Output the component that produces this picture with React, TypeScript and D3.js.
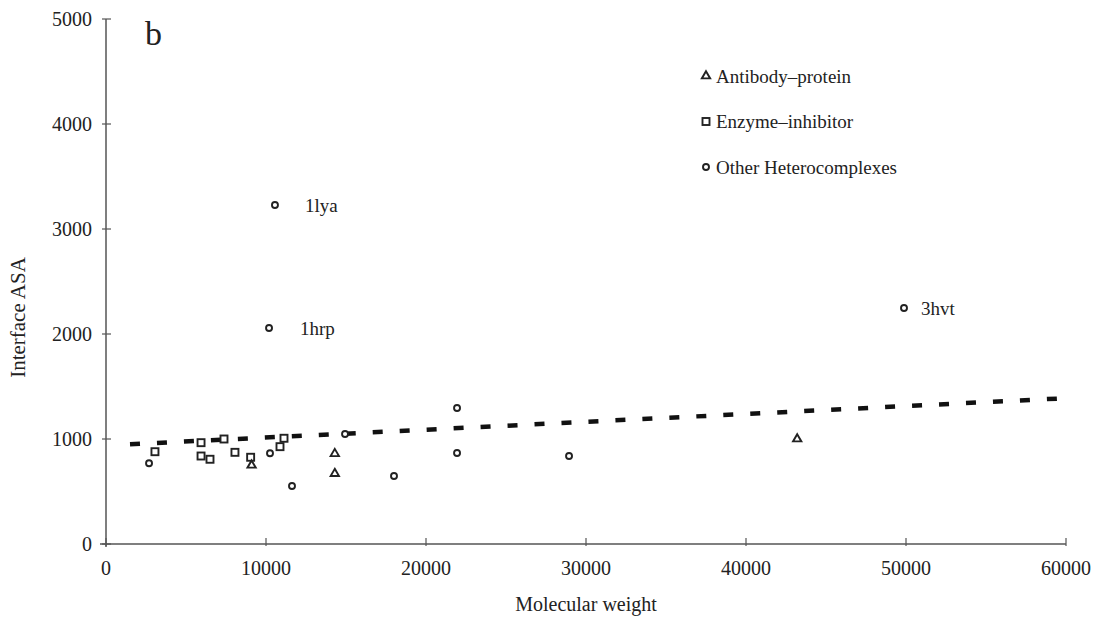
import React from 'react';
import * as d3 from 'd3';

// values (molecular weight vs interface ASA)
const antibodyMW = [9100, 14300, 14300, 43200];
const antibodyASA = [750, 860, 670, 1000];

const enzymeMW = [3060, 5940, 5940, 6500, 7375, 8060, 9040, 10875, 11125];
const enzymeASA = [879, 965, 838, 807, 1000, 873, 826, 927, 1007];

const otherMW = [2690, 10250, 11625, 14940, 18000, 21940, 21940, 28940, 10190, 10560, 49875];
const otherASA = [769, 864, 552, 1048, 648, 1295, 867, 838, 2057, 3229, 2248];
const otherNames = ['', '', '', '', '', '', '', '', '1hrp', '1lya', '3hvt'];

// regression line end points
const fitMW = [1500, 59500];
const fitASA = [950, 1385];

const xTicks = [0, 10000, 20000, 30000, 40000, 50000, 60000];
const yTicks = [0, 1000, 2000, 3000, 4000, 5000];

const legendItems = ['Antibody\u2013protein', 'Enzyme\u2013inhibitor', 'Other Heterocomplexes'];

const W = 1100, H = 619;
const margin = { top: 19, right: 34, bottom: 75, left: 106 };
const font = '"Liberation Serif", "DejaVu Serif", serif';
const ink = '#222';
const axisCol = '#555';
// how far each name sits right of its point
const nameDx: Record<string, number> = { '1hrp': 31, '1lya': 30, '3hvt': 17 };

export default function App() {
  const x = d3.scaleLinear().domain([0, 60000]).range([margin.left, W - margin.right]);
  const y = d3.scaleLinear().domain([0, 5000]).range([H - margin.bottom, margin.top]);

  const tri = d3.symbol().type(d3.symbolTriangle).size(30)();
  const line = d3.line<number>()
    .x((d) => x(fitMW[d]))
    .y((d) => y(fitASA[d]));

  const square = (cx: number, cy: number, k: string) => (
    <rect key={k} x={cx - 3.5} y={cy - 3.5} width={7} height={7} fill="white" stroke={ink} strokeWidth={1.9} />
  );
  const circle = (cx: number, cy: number, k: string) => (
    <circle key={k} cx={cx} cy={cy} r={3} fill="white" stroke={ink} strokeWidth={1.9} />
  );
  const triangle = (cx: number, cy: number, k: string) => (
    <path key={k} d={tri!} transform={`translate(${cx},${cy})`} fill="white" stroke={ink} strokeWidth={1.9} />
  );

  const x0 = x(0), y0 = y(0);

  return (
    <svg width={W} height={H} style={{ position: 'absolute', left: 0, top: 0, background: 'white' }}
      fontFamily={font}>
      {/* axes */}
      <line x1={x0 - 6} x2={x(60000)} y1={y0} y2={y0} stroke={axisCol} strokeWidth={1.5} />
      <line x1={x0} x2={x0} y1={y(5000)} y2={y0 + 3} stroke={axisCol} strokeWidth={1.5} />
      {xTicks.map((t) => (
        <g key={'xt' + t}>
          <line x1={x(t)} x2={x(t)} y1={y0 - 6} y2={y0 + 2} stroke={axisCol} strokeWidth={1.2} />
          <text x={x(t)} y={y0 + 31} textAnchor="middle" fontSize={20} fill={ink}>{t}</text>
        </g>
      ))}
      {yTicks.map((t) => (
        <g key={'yt' + t}>
          <line x1={x0 - 4} x2={x0 + 5} y1={y(t)} y2={y(t)} stroke={axisCol} strokeWidth={1.2} />
          <text x={x0 - 14} y={y(t)} dy="0.35em" textAnchor="end" fontSize={20} fill={ink}>{t}</text>
        </g>
      ))}
      <text x={(x(0) + x(60000)) / 2} y={611} textAnchor="middle" fontSize={20} fill={ink}>Molecular weight</text>
      <text transform={`translate(25,${(y(0) + y(5000)) / 2 + 36}) rotate(-90)`} textAnchor="middle" fontSize={21} fill={ink}>Interface ASA</text>
      <text x={145} y={45} fontSize={34} fill={ink}>b</text>

      {/* regression line */}
      <path d={line([0, 1])!} fill="none" stroke="#111" strokeWidth={4.5} strokeDasharray="10 17" />

      {/* points */}
      {enzymeMW.map((m, i) => square(x(m), y(enzymeASA[i]), 'e' + i))}
      {otherMW.map((m, i) => circle(x(m), y(otherASA[i]), 'o' + i))}
      {antibodyMW.map((m, i) => triangle(x(m), y(antibodyASA[i]), 'a' + i))}
      {otherMW.map((m, i) => otherNames[i] ? (
        <text key={'n' + i} x={x(m) + nameDx[otherNames[i]]} y={y(otherASA[i])} dy="0.35em" fontSize={19} fill={ink}>{otherNames[i]}</text>
      ) : null)}

      {/* legend */}
      {legendItems.map((lab, i) => {
        const ly = 76 + i * 45.5;
        return (
          <g key={'lg' + i}>
            {i === 0 ? triangle(706, ly, 'lt') : i === 1 ? square(706, ly, 'ls') : circle(706, ly, 'lc')}
            <text x={716} y={ly} dy="0.35em" fontSize={19} fill={ink}>{lab}</text>
          </g>
        );
      })}
    </svg>
  );
}
